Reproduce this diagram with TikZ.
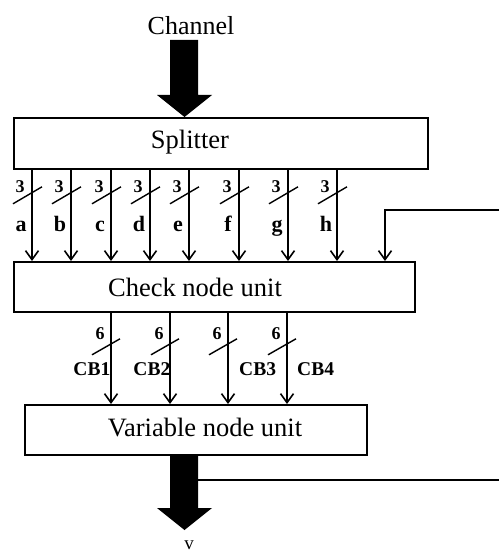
\documentclass[tikz,border=0pt]{standalone}
\usepackage{fontspec}
\setmainfont{Liberation Serif}
\usetikzlibrary{arrows.meta}
\begin{document}
\begin{tikzpicture}[x=1pt,y=-1pt,
  box/.style={draw,line width=1.8pt,rectangle,anchor=north west,inner sep=0pt},
  boxtext/.style={font=\fontsize{26.5}{30}\selectfont,inner sep=0pt},
  arr/.style={line width=1.8pt,-{Straight Barb[length=9pt,width=13pt,line width=1.6pt]}},
  ln/.style={line width=1.7pt},
  slash/.style={line width=1.4pt},
  bw/.style={font=\bfseries\fontsize{18}{20}\selectfont,inner sep=0pt,anchor=base},
  lt/.style={font=\bfseries\fontsize{22}{24}\selectfont,inner sep=0pt,anchor=base},
  cb/.style={font=\bfseries\fontsize{19.5}{22}\selectfont,inner sep=0pt,anchor=base},
  fat/.style={fill=black,draw=none}
]
\useasboundingbox (0,0) rectangle (499,553);

% boxes
\node[box,minimum width=414pt,minimum height=51pt] (split) at (13,117) {};
\node[box,minimum width=401pt,minimum height=50pt] (check) at (13,261) {};
\node[box,minimum width=342pt,minimum height=50pt] (var) at (24,404) {};
\node[boxtext] (tsplit) at (190,142) {Splitter};
\node[boxtext] (tcheck) at (195,287) {Check node unit};
\node[boxtext] (tvar) at (205,428) {Variable node unit};

% channel
\node[font=\fontsize{26}{30}\selectfont,inner sep=0pt,anchor=base] (chan) at (191,35) {Channel};
\fill[fat] (170,40) -- (198,40) -- (198,95) -- (212,95) -- (184.5,117) -- (157,95) -- (170,95) -- cycle;

% input arrows a..h
\foreach \xx/\lab in {19/a,58/b,98/c,137/d,176/e,226/f,275/g,324/h}{
  \draw[arr] ([xshift=\xx pt]split.south west) -- ([xshift=\xx pt]check.north west);
  \draw[slash] ([xshift=\xx pt-19pt,yshift=-34pt]split.south west) -- ([xshift=\xx pt+10pt,yshift=-17pt]split.south west);
  \node[bw] at ([xshift=\xx pt-12pt,yshift=-23pt]split.south west) {3};
  \node[lt] at ([xshift=\xx pt-11pt,yshift=-62pt]split.south west) {\lab};
}

% feedback from right
\coordinate (fbtop) at (499,210);
\draw[arr] (fbtop) -| ([xshift=372pt]check.north west);

% CB arrows
\foreach \xx in {98,157,215,274}{
  \draw[arr] ([xshift=\xx pt]check.south west) -- ([xshift=\xx pt-11pt]var.north west);
  \draw[slash] ([xshift=\xx pt-19pt,yshift=-42pt]check.south west) -- ([xshift=\xx pt+9pt,yshift=-26pt]check.south west);
  \node[bw] at ([xshift=\xx pt-11pt,yshift=-27pt]check.south west) {6};
}
\node[cb,anchor=base east] (cb1) at (110.5,375) {CB1};
\node[cb,anchor=base east] (cb2) at (170.5,375) {CB2};
\node[cb,anchor=base west] (cb3) at (239,375) {CB3};
\node[cb,anchor=base west] (cb4) at (297,375) {CB4};

% output
\fill[fat] (170,454) -- (198,454) -- (198,508) -- (212,508) -- (184.5,530) -- (157,508) -- (170,508) -- cycle;
\coordinate (outr) at (198,480);
\coordinate (fbbot) at (499,480);
\draw[ln] (outr) -- (fbbot);
\node[font=\fontsize{19}{20}\selectfont,inner sep=0pt,anchor=base] (v) at (189,549) {v};
\end{tikzpicture}
\end{document}
